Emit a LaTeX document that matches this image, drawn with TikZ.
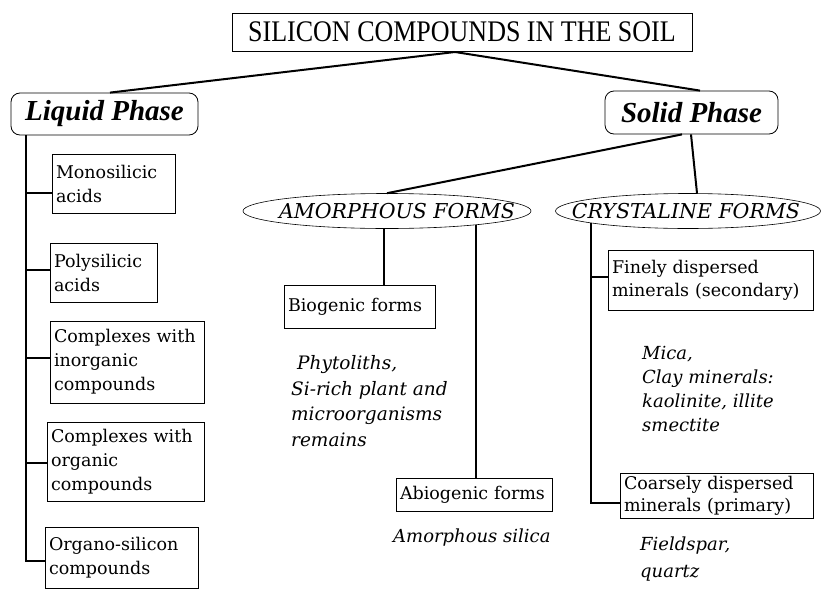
\documentclass[tikz,border=0pt]{standalone}
\usepackage{fontspec}
\usepackage{graphicx}
\usetikzlibrary{shapes.geometric}
\setmainfont{DejaVu Serif}
\newfontfamily\boxfont{DejaVu Serif}
\newfontfamily\timesfont{Liberation Serif}
\begin{document}
\begin{tikzpicture}[x=1pt,y=-1pt,
  lbox/.style={draw, line width=0.8pt, inner xsep=4pt, inner ysep=0pt, align=left,
    font={\boxfont\fontsize{17.5}{24}\selectfont}},
  phase/.style={draw, rounded corners=9pt, line width=0.8pt, inner sep=0pt,
    font={\timesfont\bfseries\itshape\fontsize{29}{29}\selectfont}},
  formell/.style={ellipse, draw, line width=0.6pt, inner sep=0pt, minimum height=35},
  formtext/.style={inner sep=0pt, font={\boxfont\itshape\fontsize{20.5}{20.5}\selectfont}},
  lab/.style={inner sep=0pt, align=left, anchor=west,
    font={\boxfont\itshape\fontsize{18}{25}\selectfont}},
  conn/.style={line width=2pt},
  thinconn/.style={line width=1.5pt}]
\fill[white] (0,0) rectangle (821,597);
\useasboundingbox (0,0) rectangle (821,597);

% title
\node[draw, line width=0.8pt, minimum width=460, minimum height=38, inner sep=0pt,
  font={\timesfont\fontsize{26}{26}\selectfont}] (title) at (462,32)
  {\scalebox{1}[1.15]{SILICON COMPOUNDS IN THE SOIL}};
\coordinate (apex) at (455,52);

% phases
\node[phase, minimum width=187, minimum height=42] (liquid) at (104.5,114) {Liquid Phase};
\node[phase, minimum width=173, minimum height=43] (solid) at (691.5,112.5) {Solid Phase};

% liquid phase boxes
\node[lbox, text width=115, minimum height=59] (mono) at (113.5,183.5) {Monosilicic\\acids};
\node[lbox, text width=99, minimum height=59] (poly) at (103.5,272.5) {Polysilicic\\acids};
\node[lbox, text width=146, minimum height=82] (cinorg) at (127,362) {Complexes~with\\inorganic\\compounds};
\node[lbox, text width=149, minimum height=79] (corg) at (125.5,461.5) {Complexes~with\\organic\\compounds};
\node[lbox, text width=145, minimum height=61] (organo) at (121.5,557.5) {Organo-silicon\\compounds};

% forms
\node[formell, minimum width=288] (amor) at (387,211) {};
\node[formtext] (amort) at (397,211) {AMORPHOUS FORMS};
\node[formell, minimum width=265] (crys) at (688,211) {};
\node[formtext] (cryst) at (686,211) {CRYSTALINE FORMS};

% amorphous boxes
\node[lbox, text width=143, minimum height=43] (bio) at (359.5,306.5) {Biogenic~forms};
\node[lbox, text width=148, minimum height=33] (abio) at (474,494.5) {Abiogenic~forms};

% crystalline boxes
\node[lbox, text width=197, minimum height=60, font={\boxfont\fontsize{17.5}{23}\selectfont}] (fine) at (710.5,280) {Finely dispersed\\minerals~(secondary)};
\node[lbox, text width=185, minimum height=45, font={\boxfont\fontsize{17.5}{22}\selectfont}] (coarse) at (716.5,495.5) {Coarsely~dispersed\\minerals~(primary)};

% italic labels
\node[lab, font={\boxfont\itshape\fontsize{18.5}{25.5}\selectfont}] (phyto) at (291,401) {\hspace{6pt}Phytoliths,\\Si-rich plant and\\microorganisms\\remains};
\node[lab] (silica) at (393,538) {Amorphous silica};
\node[lab, font={\boxfont\itshape\fontsize{18}{24.3}\selectfont}] (mica) at (642,389) {Mica,\\Clay minerals:\\kaolinite, illite\\smectite};
\node[lab, font={\boxfont\itshape\fontsize{18}{27}\selectfont}] (field) at (640,559) {Fieldspar,\\quartz};

% connectors
\draw[conn] (apex) -- (liquid.north -| 110,0);
\draw[conn] (apex) -- (solid.north -| 700,0);

\draw[conn] (liquid.south -| 26,0) -- (26,561) -- (organo.west |- 0,561);
\draw[conn] (26,193) -- (mono.west |- 0,193);
\draw[conn] (26,270) -- (poly.west |- 0,270);
\draw[conn] (26,358) -- (cinorg.west |- 0,358);
\draw[conn] (26,463) -- (corg.west |- 0,463);

\draw[conn] (solid.south -| 682,0) -- (amor.north);
\draw[conn] (solid.south -| 691,0) -- (crys.north -| 697,0);

\draw[thinconn] (amor.south -| 384,0) -- (bio.north -| 384,0);
\draw[thinconn] (476,225) -- (abio.north -| 476,0);

\draw[conn] (591,223) -- (591,503) -- (coarse.west |- 0,503);
\draw[conn] (591,277) -- (fine.west |- 0,277);
\end{tikzpicture}
\end{document}
